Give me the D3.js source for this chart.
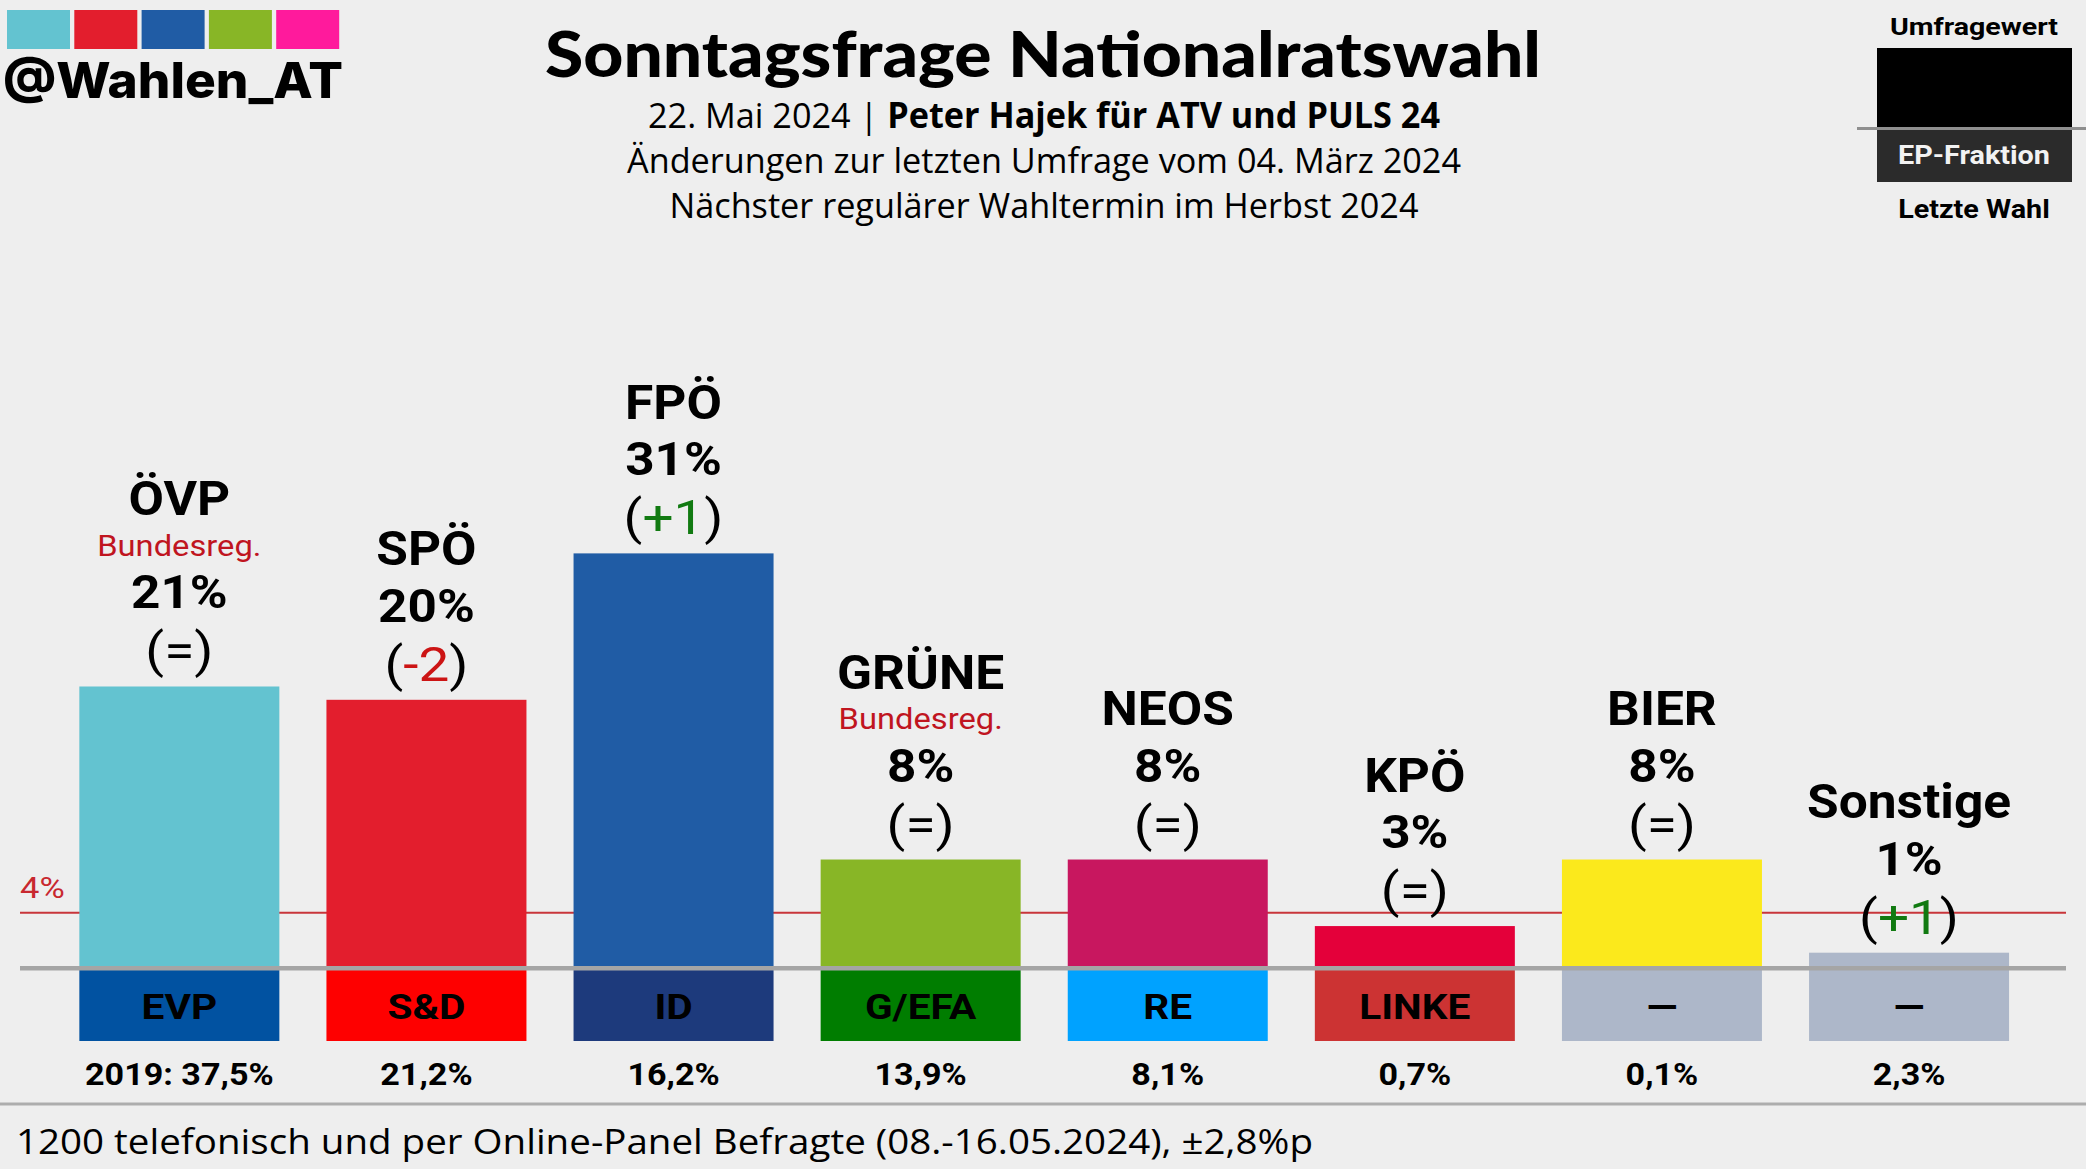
<!DOCTYPE html>
<html>
<head>
<meta charset="utf-8">
<script src="https://cdn.jsdelivr.net/npm/d3@7"></script>
<style>
  body { margin: 0; background: #eeeeee; }
  svg { display: block; }
</style>
</head>
<body>
<svg id="chart"></svg>
<script>
const width = 2086;
const height = 1169;

// Umfragedaten
const parties = ["ÖVP", "SPÖ", "FPÖ", "GRÜNE", "NEOS", "KPÖ", "BIER", "Sonstige"];
const values = [21, 20, 31, 8, 8, 3, 8, 1];
const changes = ["=", "-2", "+1", "=", "=", "=", "=", "+1"];
const inGovernment = [true, false, false, true, false, false, false, false];
const partyColors = ["#63c3d0", "#e31e2d", "#205ca5", "#88b626", "#c8175f", "#e4003a", "#fbe91c", "#adb7c9"];

// EP-Fraktionen und letzte Wahl
const epGroups = ["EVP", "S&D", "ID", "G/EFA", "RE", "LINKE", "—", "—"];
const epColors = ["#0152a1", "#fe0000", "#1d3a7c", "#007d00", "#00a2ff", "#cc3333", "#adb7c9", "#adb7c9"];
const lastElection = [37.5, 21.2, 16.2, 13.9, 8.1, 0.7, 0.1, 2.3];
const threshold = 4;

const logoColors = ["#63c3d0", "#e31e2d", "#205ca5", "#88b626", "#ff1a9c"];

const svg = d3.select("#chart")
  .attr("width", width)
  .attr("height", height)
  .attr("viewBox", `0 0 ${width} ${height}`);

svg.append("rect")
  .attr("width", width)
  .attr("height", height)
  .attr("fill", "#eeeeee");

const x = d3.scaleBand()
  .domain(parties)
  .range([55.8, 2032.6])
  .paddingInner(0.1906)
  .paddingOuter(0.0953);

const y = d3.scaleLinear()
  .domain([0, 40])
  .range([966, 966 - 13.31 * 40]);

const fmt = v => d3.format(".1f")(v).replace(".", ",") + "%";

// Roboto im Original etwas breiter gezogen
function stretch(sel, f) {
  sel.each(function () {
    const w = this.getComputedTextLength();
    d3.select(this)
      .attr("textLength", w * f)
      .attr("lengthAdjust", "spacingAndGlyphs");
  });
  return sel;
}

// Logo
svg.append("g").selectAll("rect")
  .data(logoColors)
  .join("rect")
  .attr("x", (d, i) => 7 + i * 67.3)
  .attr("y", 10)
  .attr("width", 63)
  .attr("height", 39)
  .attr("fill", d => d);

svg.append("text")
  .attr("x", 3)
  .attr("y", 98)
  .attr("font-family", "Inter, sans-serif")
  .attr("font-weight", 800)
  .attr("font-size", 49)
  .attr("textLength", 340)
  .attr("lengthAdjust", "spacingAndGlyphs")
  .text("@Wahlen_AT");

// Titel
svg.append("text")
  .attr("x", 1043)
  .attr("y", 77)
  .attr("text-anchor", "middle")
  .attr("font-family", "Lato, sans-serif")
  .attr("font-weight", 900)
  .attr("font-size", 62)
  .attr("textLength", 996)
  .attr("lengthAdjust", "spacingAndGlyphs")
  .text("Sonntagsfrage Nationalratswahl");

const sub1 = svg.append("text")
  .attr("x", 1044)
  .attr("y", 128)
  .attr("text-anchor", "middle")
  .attr("font-family", "'Open Sans', sans-serif")
  .attr("font-size", 35)
  .attr("textLength", 792)
  .attr("lengthAdjust", "spacingAndGlyphs");
sub1.append("tspan").text("22. Mai 2024 | ");
sub1.append("tspan").attr("font-weight", 700).text("Peter Hajek für ATV und PULS 24");

svg.append("text")
  .attr("x", 1044)
  .attr("y", 173)
  .attr("text-anchor", "middle")
  .attr("font-family", "'Open Sans', sans-serif")
  .attr("font-size", 35)
  .attr("textLength", 834)
  .attr("lengthAdjust", "spacingAndGlyphs")
  .text("Änderungen zur letzten Umfrage vom 04. März 2024");

svg.append("text")
  .attr("x", 1044)
  .attr("y", 218)
  .attr("text-anchor", "middle")
  .attr("font-family", "'Open Sans', sans-serif")
  .attr("font-size", 35)
  .attr("textLength", 749)
  .attr("lengthAdjust", "spacingAndGlyphs")
  .text("Nächster regulärer Wahltermin im Herbst 2024");

// Legende rechts oben
const legend = svg.append("g")
  .attr("font-family", "Roboto, sans-serif")
  .attr("font-weight", 700)
  .attr("text-anchor", "middle");
stretch(legend.append("text").attr("x", 1974).attr("y", 35).attr("font-size", 24).text("Umfragewert"), 1.19);
legend.append("rect").attr("x", 1877).attr("y", 48).attr("width", 195).attr("height", 80).attr("fill", "#000");
legend.append("rect").attr("x", 1877).attr("y", 129).attr("width", 195).attr("height", 53).attr("fill", "#2b2b2b");
legend.append("line").attr("x1", 1857).attr("x2", 2086).attr("y1", 128.5).attr("y2", 128.5)
  .attr("stroke", "#8f8f8f").attr("stroke-width", 3);
stretch(legend.append("text").attr("x", 1974).attr("y", 164).attr("font-size", 25).attr("fill", "#f2f2f2").text("EP-Fraktion"), 1.15);
stretch(legend.append("text").attr("x", 1974).attr("y", 218).attr("font-size", 25).text("Letzte Wahl"), 1.15);

// 4%-Hürde
svg.append("line")
  .attr("x1", 20).attr("x2", 2066)
  .attr("y1", y(threshold)).attr("y2", y(threshold))
  .attr("stroke", "#c8353a")
  .attr("stroke-width", 2);

stretch(svg.append("text")
  .attr("x", 20)
  .attr("y", 898)
  .attr("font-family", "Roboto, sans-serif")
  .attr("font-size", 30)
  .attr("fill", "#c8282f")
  .text(threshold + "%"), 1.15);

// Balken
svg.append("g").selectAll("rect")
  .data(parties)
  .join("rect")
  .attr("x", d => x(d))
  .attr("y", (d, i) => y(values[i]))
  .attr("width", x.bandwidth())
  .attr("height", (d, i) => y(0) - y(values[i]) + 4)
  .attr("fill", (d, i) => partyColors[i]);

// EP-Fraktionen
const ep = svg.append("g");
ep.selectAll("rect")
  .data(parties)
  .join("rect")
  .attr("x", d => x(d))
  .attr("y", 970)
  .attr("width", x.bandwidth())
  .attr("height", 71)
  .attr("fill", (d, i) => epColors[i]);

stretch(ep.selectAll("text")
  .data(parties)
  .join("text")
  .attr("x", d => x(d) + x.bandwidth() / 2)
  .attr("y", 1019)
  .attr("text-anchor", "middle")
  .attr("font-family", "Roboto, sans-serif")
  .attr("font-weight", 700)
  .attr("font-size", 35)
  .attr("fill", "#000")
  .text((d, i) => epGroups[i]), 1.16);

// Grundlinie
svg.append("line")
  .attr("x1", 20).attr("x2", 2066)
  .attr("y1", 968.3).attr("y2", 968.3)
  .attr("stroke", "#a5a5a5")
  .attr("stroke-width", 4.5);

// Letzte Wahl
stretch(svg.append("g").selectAll("text")
  .data(parties)
  .join("text")
  .attr("x", d => x(d) + x.bandwidth() / 2)
  .attr("y", 1085)
  .attr("text-anchor", "middle")
  .attr("font-family", "Roboto, sans-serif")
  .attr("font-weight", 700)
  .attr("font-size", 31)
  .text((d, i) => (i === 0 ? "2019: " : "") + fmt(lastElection[i])), 1.1);

// Beschriftungen über den Balken
const labels = svg.append("g")
  .attr("font-family", "Roboto, sans-serif")
  .attr("text-anchor", "middle");

parties.forEach((p, i) => {
  const cx = x(p) + x.bandwidth() / 2;
  const changeY = y(values[i]) - 19;
  const pctY = changeY - 59;
  let nameY = pctY - 56.5;

  const ch = labels.append("text")
    .attr("x", cx).attr("y", changeY)
    .attr("font-size", 49);
  const c = changes[i];
  const cColor = c.startsWith("+") ? "#117a11" : c.startsWith("-") ? "#cc1414" : "#000";
  ch.append("tspan").text("(");
  ch.append("tspan").attr("fill", cColor).text(c);
  ch.append("tspan").text(")");
  stretch(ch, 1.12);

  stretch(labels.append("text")
    .attr("x", cx).attr("y", pctY)
    .attr("font-weight", 700)
    .attr("font-size", 47)
    .text(values[i] + "%"), 1.09);

  if (inGovernment[i]) {
    const bY = pctY - 52.5;
    stretch(labels.append("text")
      .attr("x", cx).attr("y", bY)
      .attr("font-size", 30)
      .attr("fill", "#c0151f")
      .text("Bundesreg."), 1.09);
    nameY = bY - 40.5;
  }

  stretch(labels.append("text")
    .attr("x", cx).attr("y", nameY)
    .attr("font-weight", 700)
    .attr("font-size", 49)
    .text(p), 1.05);
});

// Fußzeile
svg.append("line")
  .attr("x1", 0).attr("x2", width)
  .attr("y1", 1104).attr("y2", 1104)
  .attr("stroke", "#adadad")
  .attr("stroke-width", 3);

svg.append("text")
  .attr("x", 16)
  .attr("y", 1154)
  .attr("font-family", "'Open Sans', sans-serif")
  .attr("font-size", 35)
  .attr("textLength", 1297)
  .attr("lengthAdjust", "spacingAndGlyphs")
  .text("1200 telefonisch und per Online-Panel Befragte (08.-16.05.2024), ±2,8%p");
</script>
</body>
</html>
